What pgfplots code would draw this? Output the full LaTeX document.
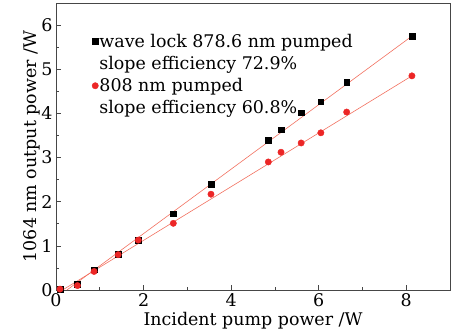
\documentclass[border=0pt]{standalone}
\usepackage{fontspec}
\setmainfont{DejaVu Serif}
\usepackage{pgfplots}
\pgfplotsset{compat=1.18}
\definecolor{mred}{RGB}{236,38,38}
\definecolor{fitline}{RGB}{242,112,95}
\definecolor{axgray}{RGB}{70,70,70}
\begin{document}
\begin{tikzpicture}
\begin{axis}[
  name=ax,
  scale only axis,
  width=394bp, height=287bp,
  xmin=0, xmax=9, ymin=0, ymax=6.5,
  xtick={0,2,4,6,8}, ytick={0,1,2,3,4,5,6},
  minor tick num=1,
  tick align=inside,
  xtick pos=left, ytick pos=left,
  major tick length=5bp, minor tick length=3bp,
  axis line style={axgray, line width=0.9pt},
  every tick/.style={axgray, line width=0.7pt},
  tick label style={font=\fontsize{17.5}{20}\selectfont},
  label style={font=\fontsize{17.5}{20}\selectfont},
  /pgf/number format/assume math mode=true,
  xlabel={Incident pump power /W},
  ylabel={1064 nm output power /W},
  xlabel style={yshift=1bp},
  ylabel style={yshift=-6bp},
  legend style={at={(0.075,0.9)}, anchor=north west, draw=none, fill=none,
    font=\fontsize{17.5}{20}\selectfont, row sep=5.5bp, inner sep=1bp,
    nodes={inner sep=1bp}},
  legend cell align=left,
  clip=false,
]
\addplot[fitline, line width=0.6pt, forget plot] coordinates {(0.25,0) (8.13,5.75)};
\addplot[fitline, line width=0.6pt, forget plot] coordinates {(0.15,0) (8.13,4.85)};
\addplot[only marks, mark=square*, mark size=2.8pt, black] coordinates {
(0.09,0.02) (0.49,0.13) (0.87,0.46) (1.42,0.81) (1.88,1.13) (2.68,1.73) (3.54,2.40)
(4.85,3.39) (5.14,3.63) (5.60,4.02) (6.05,4.26) (6.64,4.71) (8.13,5.75)};
\addlegendentry{wave lock 878.6 nm pumped}
\addlegendimage{empty legend}
\addlegendentry{slope efficiency 72.9\%}
\addplot[only marks, mark=*, mark size=3.2pt, mred, mark options={draw=mred, fill=mred}] coordinates {
(0.09,0.02) (0.49,0.10) (0.87,0.42) (1.42,0.80) (1.88,1.13) (2.68,1.51) (3.54,2.17)
(4.85,2.90) (5.14,3.12) (5.60,3.33) (6.05,3.56) (6.64,4.03) (8.13,4.85)};
\addlegendentry{808 nm pumped}
\addlegendimage{empty legend}
\addlegendentry{slope efficiency 60.8\%}
\end{axis}
\path (ax.south west) ++(-56bp,-44bp) coordinate (bbA);
\path (ax.north east) ++(22bp,3bp) coordinate (bbB);
\useasboundingbox (bbA) rectangle (bbB);
\end{tikzpicture}
\end{document}
